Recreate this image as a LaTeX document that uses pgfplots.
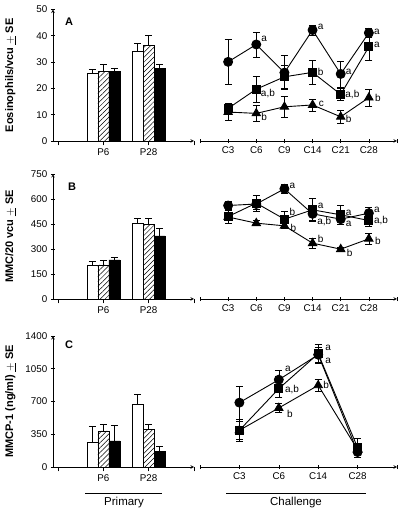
\documentclass[border=0pt]{standalone}
\usepackage{pgfplots}
\pgfplotsset{compat=1.18}
\usepackage{fontspec}
\setmainfont{Liberation Sans}
\usetikzlibrary{patterns.meta}

\tikzset{lab/.style={font=\fontsize{10}{12}\selectfont, anchor=west, inner sep=0pt}}
\pgfplotsset{
  base/.style={scale only axis, clip=false, tick align=outside, major tick length=4.5pt,
    tick style={black, line width=0.6pt}, axis line style={-, line width=0.6pt},
    /pgf/number format/assume math mode=true,
    /pgf/number format/set thousands separator={},
    ticklabel style={font=\fontsize{9.8}{12}\selectfont},
    label style={font=\bfseries\fontsize{11}{13}\selectfont}},
  leftax/.style={base, width=141pt, xmin=-0.11, xmax=3, xtick={0,1,2,3}, xticklabels={,P6,P28,},
    axis x line=bottom, axis y line=left, ybar=0pt, bar width=11pt, ymin=0,
    ylabel style={at={(axis description cs:-0.30,0.5)}, anchor=center}},
  rightax/.style={base, width=197pt, axis x line=bottom, axis y line=none, ymin=0, xmin=0},
  barerr/.style={error bars/.cd, y dir=plus, y explicit, error bar style={line width=0.6pt}, error mark options={rotate=90, mark size=3.5pt, line width=0.6pt}},
  wbar/.style={fill=white, draw=black, line width=0.6pt, barerr},
  hbar/.style={draw=black, line width=0.6pt, pattern={Lines[angle=45,distance=3.5pt,line width=0.5pt]}, barerr},
  kbar/.style={fill=black, draw=black, line width=0.6pt, barerr},
  lerr/.style={error bars/.cd, y dir=both, y explicit, error bar style={line width=0.5pt}, error mark options={rotate=90, mark size=3.5pt, line width=0.5pt}},
  lcirc/.style={black, line width=0.9pt, mark=*, mark size=4.5pt, mark options={solid, fill=black}, lerr},
  lsq/.style={black, line width=0.9pt, mark=square*, mark size=4pt, mark options={solid, fill=black}, lerr},
  ltri/.style={black, line width=0.9pt, mark=triangle*, mark size=4.8pt, mark options={solid, fill=black}, lerr},
}

\begin{document}
\begin{tikzpicture}[x=1pt,y=1pt]
\useasboundingbox (0,0) rectangle (403,513);

% ---------------- Panel A ----------------
\begin{axis}[leftax, at={(53pt,372pt)}, anchor=south west, height=131.5pt, ymax=50, ytick={0,10,20,30,40,50},
  ylabel={Eosinophils/vcu $\underline{+}$ SE}]
\addplot[wbar] coordinates {(1,25.9) +- (0,1.3) (2,34.2) +- (0,2.9)};
\addplot[hbar] coordinates {(1,26.6) +- (0,2.5) (2,36.5) +- (0,3.6)};
\addplot[kbar] coordinates {(1,26.6) +- (0,1.2) (2,27.5) +- (0,1.6)};
\end{axis}
\begin{axis}[rightax, at={(200pt,372pt)}, anchor=south west, height=131.5pt, ymax=50, xmax=7,
  xtick={0,1,2,3,4,5,6,7}, xticklabels={,C3,C6,C9,C14,C21,C28,}]
\addplot[lcirc] coordinates {(1,30.1) +- (0,8.5) (2,36.7) +- (0,4.8) (3,26) +- (0,6.5) (4,42.2) +- (0,2) (5,25.5) +- (0,5) (6,41.1) +- (0,1.6)};
\addplot[lsq] coordinates {(1,12.4) +- (0,1.9) (2,19.7) +- (0,5) (3,24.4) +- (0,4.5) (4,26.1) +- (0,4.7) (5,17.7) +- (0,2.2) (6,35.8) +- (0,5)};
\addplot[ltri] coordinates {(1,11) +- (0,3) (2,10.5) +- (0,3) (3,13) +- (0,4) (4,13.7) +- (0,2.2) (5,9.2) +- (0,2.3) (6,16.5) +- (0,3.2)};
\node[lab] at ([xshift=5pt,yshift=6pt]axis cs:2,36.7) {a};
\node[lab] at ([xshift=5pt,yshift=3pt]axis cs:4,42.2) {a};
\node[lab] at ([xshift=5pt,yshift=2pt]axis cs:5,25.5) {a};
\node[lab] at ([xshift=5pt,yshift=1pt]axis cs:6,41.1) {a};
\node[lab] at ([xshift=4.5pt,yshift=-4pt]axis cs:2,19.7) {a,b};
\node[lab] at ([xshift=5pt,yshift=0pt]axis cs:4,26.1) {b};
\node[lab] at ([xshift=4.5pt,yshift=0pt]axis cs:5,17.7) {a,b};
\node[lab] at ([xshift=5pt,yshift=2pt]axis cs:6,35.8) {a};
\node[lab] at ([xshift=5pt,yshift=-4pt]axis cs:2,10.5) {b};
\node[lab] at ([xshift=6pt,yshift=1pt]axis cs:4,13.7) {c};
\node[lab] at ([xshift=5pt,yshift=-2pt]axis cs:5,9.2) {b};
\node[lab] at ([xshift=6pt,yshift=0pt]axis cs:6,16.5) {b};
\end{axis}
\node[font=\bfseries\fontsize{11}{13}\selectfont] at (69,491) {A};

% ---------------- Panel B ----------------
\begin{axis}[leftax, at={(53pt,214pt)}, anchor=south west, height=125pt, ymax=750, ytick={0,150,300,450,600,750},
  ylabel={MMC/20 vcu $\underline{+}$ SE}]
\addplot[wbar] coordinates {(1,200) +- (0,25) (2,455) +- (0,30)};
\addplot[hbar] coordinates {(1,205) +- (0,26) (2,447) +- (0,38)};
\addplot[kbar] coordinates {(1,235) +- (0,16) (2,379) +- (0,44)};
\end{axis}
\begin{axis}[rightax, at={(200pt,214pt)}, anchor=south west, height=125pt, ymax=750, xmax=7,
  xtick={0,1,2,3,4,5,6,7}, xticklabels={,C3,C6,C9,C14,C21,C28,}]
\addplot[lcirc] coordinates {(1,561) +- (0,25) (2,570) +- (0,30) (3,661) +- (0,28) (4,511) +- (0,40) (5,479) +- (0,30) (6,515) +- (0,38)};
\addplot[lsq] coordinates {(1,495) +- (0,38) (2,575) +- (0,50) (3,479) +- (0,50) (4,535) +- (0,70) (5,505) +- (0,55) (6,471) +- (0,35)};
\addplot[ltri] coordinates {(1,492) +- (0,20) (2,455) +- (0,15) (3,439) +- (0,15) (4,335) +- (0,28) (5,299) +- (0,12) (6,361) +- (0,35)};
\node[lab] at ([xshift=5pt,yshift=3pt]axis cs:3,661) {a};
\node[lab] at ([xshift=4.5pt,yshift=-8pt]axis cs:4,511) {a,b};
\node[lab] at ([xshift=5pt,yshift=-5pt]axis cs:5,479) {a};
\node[lab] at ([xshift=5pt,yshift=3pt]axis cs:6,515) {a};
\node[lab] at ([xshift=5pt,yshift=7pt]axis cs:3,479) {b};
\node[lab] at ([xshift=5pt,yshift=4pt]axis cs:4,535) {a};
\node[lab] at ([xshift=5pt,yshift=2pt]axis cs:5,505) {a};
\node[lab] at ([xshift=5pt,yshift=0pt]axis cs:6,471) {a,b};
\node[lab] at ([xshift=6pt,yshift=-2pt]axis cs:3,439) {b};
\node[lab] at ([xshift=5pt,yshift=4pt]axis cs:4,335) {b};
\node[lab] at ([xshift=6pt,yshift=-4pt]axis cs:5,299) {b};
\node[lab] at ([xshift=6pt,yshift=-2pt]axis cs:6,361) {b};
\end{axis}
\node[font=\bfseries\fontsize{11}{13}\selectfont] at (72,326) {B};

% ---------------- Panel C ----------------
\begin{axis}[leftax, at={(53pt,46pt)}, anchor=south west, height=131pt, ymax=1400, ytick={0,350,700,1050,1400},
  ylabel={MMCP-1 (ng/ml) $\underline{+}$ SE}]
\addplot[wbar] coordinates {(1,260) +- (0,175) (2,670) +- (0,103)};
\addplot[hbar] coordinates {(1,385) +- (0,67) (2,399) +- (0,57)};
\addplot[kbar] coordinates {(1,278) +- (0,164) (2,167) +- (0,57)};
\end{axis}
\begin{axis}[rightax, at={(200pt,46pt)}, anchor=south west, height=131pt, ymax=1400, xmax=5,
  xtick={0,1,2,3,4,5}, xticklabels={,C3,C6,C14,C28,}]
\addplot[lcirc] coordinates {(1,688) +- (0,180) (2,933) +- (0,100) (3,1200) +- (0,80) (4,160) +- (0,60)};
\addplot[lsq] coordinates {(1,392) +- (0,115) (2,837) +- (0,90) (3,1211) +- (0,100) (4,207) +- (0,100)};
\addplot[ltri] coordinates {(1,392) +- (0,100) (2,631) +- (0,48) (3,873) +- (0,60) (4,185) +- (0,50)};
\node[lab] at ([xshift=6pt,yshift=11pt]axis cs:2,933) {a};
\node[lab] at ([xshift=7pt,yshift=6pt]axis cs:3,1211) {a};
\node[lab] at ([xshift=6pt,yshift=-1pt]axis cs:2,837) {a,b};
\node[lab] at ([xshift=7pt,yshift=-7pt]axis cs:3,1211) {a};
\node[lab] at ([xshift=8pt,yshift=-6pt]axis cs:2,631) {b};
\node[lab] at ([xshift=5pt,yshift=0pt]axis cs:3,873) {b};
\end{axis}
\node[font=\bfseries\fontsize{11}{13}\selectfont] at (69,168) {C};

% group underlines
\draw[line width=0.6pt] (85,20) -- (162,20);
\node[font=\fontsize{11.5}{13}\selectfont] at (124,10) {Primary};
\draw[line width=0.6pt] (226,20) -- (366,20);
\node[font=\fontsize{11.5}{13}\selectfont] at (296,10) {Challenge};
\end{tikzpicture}
\end{document}
